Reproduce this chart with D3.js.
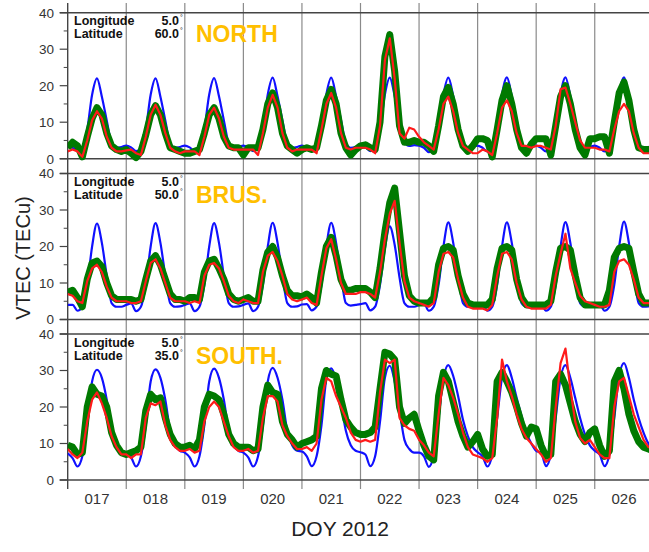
<!DOCTYPE html>
<html lang="en">
<head>
<meta charset="utf-8">
<title>VTEC DOY 2012</title>
<script src="https://d3js.org/d3.v7.min.js"></script>
<style>
  body { margin: 0; background: #fff; }
  text { font-family: "Liberation Sans", Arial, Helvetica, sans-serif; }
</style>
</head>
<body>
<svg width="649" height="552"></svg>
<script>
// x axis: days of year, one label per day
var days = ["017", "018", "019", "020", "021", "022", "023", "024", "025", "026"];
var firstDoy = 17, lastDoy = 27, stepHours = 2;
var yTicks = [0, 10, 20, 30, 40];
var yMinorTicks = [5, 15, 25, 35];

// values every 2 hours (00,02,...,22 UT), one row per day, last value = DOY 027 00 UT
var northBlue = [
  3.4, 3.0, 2.2, 2.9, 8.0, 17.5, 22.0, 17.0, 10.5, 4.3, 3.0, 3.2,
  3.6, 3.1, 2.1, 2.9, 8.0, 17.5, 22.0, 17.0, 10.5, 4.3, 3.0, 3.2,
  3.6, 3.1, 2.1, 2.9, 8.1, 17.6, 22.1, 17.1, 10.5, 4.3, 3.0, 3.2,
  3.6, 3.1, 2.1, 2.9, 8.1, 17.6, 22.2, 17.1, 10.5, 4.3, 3.0, 3.2,
  3.6, 3.1, 2.1, 2.9, 8.1, 17.6, 22.2, 17.1, 10.6, 4.4, 3.0, 3.2,
  3.6, 3.1, 2.1, 2.9, 8.1, 17.6, 22.2, 17.2, 10.6, 4.6, 3.5, 3.7,
  3.6, 3.0, 1.8, 2.9, 8.1, 17.6, 22.2, 17.2, 10.6, 4.4, 3.0, 3.2,
  3.6, 3.0, 2.0, 2.9, 8.1, 17.6, 22.3, 17.2, 10.6, 4.4, 3.0, 3.2,
  3.6, 3.0, 2.0, 2.9, 8.1, 17.6, 22.3, 17.2, 10.6, 4.4, 3.0, 3.2,
  3.6, 3.0, 2.0, 2.9, 8.1, 17.6, 22.3, 17.2, 10.6, 4.4, 3.0, 3.2,
  3.5
];
var northGreen = [
  3.0, 4.5, 3.5, 0.5, 6.0, 11.0, 14.0, 12.0, 7.0, 3.5, 2.5, 2.0,
  2.5, 1.5, 0.3, 2.0, 6.5, 12.0, 14.5, 12.0, 7.0, 3.0, 2.5, 2.0,
  1.5, 1.5, 2.0, 2.5, 7.0, 12.0, 14.0, 11.0, 6.0, 3.5, 3.0, 3.0,
  1.0, 3.0, 3.0, 3.0, 8.0, 15.0, 18.0, 14.0, 7.0, 3.5, 2.5, 1.5,
  2.5, 3.0, 2.5, 3.0, 9.0, 16.0, 19.0, 15.0, 7.0, 3.0, 1.0, 2.5,
  3.5, 3.8, 3.0, 2.5, 10.0, 28.0, 34.0, 24.0, 9.0, 4.5, 4.5, 5.0,
  4.5, 4.5, 3.5, 2.0, 9.0, 17.0, 19.5, 15.0, 8.0, 3.5, 2.0, 3.5,
  5.5, 5.5, 5.0, 0.5, 8.0, 16.0, 20.0, 15.0, 8.0, 3.0, 1.5, 4.0,
  5.5, 5.5, 5.5, 1.0, 9.0, 17.0, 20.0, 15.0, 8.0, 3.0, 1.0, 5.5,
  5.5, 6.0, 6.0, 1.5, 10.0, 18.0, 21.0, 16.0, 8.0, 3.0, 2.5, 2.5,
  2.5
];
var northRed = [
  2.0, 2.5, 2.0, 0.5, 5.0, 10.5, 13.0, 11.0, 6.0, 3.0, 2.0, 2.0,
  2.3, 2.5, 1.5, 1.0, 6.0, 12.0, 14.8, 12.0, 7.0, 3.0, 2.0, 1.5,
  2.0, 2.0, 2.0, 1.0, 6.0, 12.0, 14.0, 11.0, 6.0, 3.0, 2.5, 2.5,
  2.5, 2.5, 2.5, 1.0, 7.0, 14.0, 17.5, 14.0, 7.0, 3.0, 2.0, 2.5,
  2.5, 2.5, 2.5, 1.5, 8.0, 15.0, 18.0, 14.0, 7.0, 3.0, 2.5, 3.0,
  3.0, 3.0, 2.5, 1.5, 9.0, 27.0, 33.0, 22.0, 7.0, 5.5, 8.5, 8.0,
  6.0, 4.5, 3.5, 2.5, 8.0, 15.0, 17.0, 13.0, 7.0, 3.5, 2.5, 1.5,
  1.5, 2.5, 2.0, 1.0, 7.0, 14.0, 16.0, 13.0, 7.0, 3.5, 3.5, 3.0,
  3.5, 3.5, 3.0, 2.5, 9.0, 19.0, 19.5, 15.0, 10.0, 5.0, 3.0, 3.0,
  3.0, 2.5, 2.5, 2.0, 8.0, 13.0, 15.0, 13.0, 7.0, 3.0, 1.5, 1.5,
  1.5
];

var brusBlue = [
  4.0, 4.0, 2.4, 3.5, 9.5, 20.0, 26.3, 21.0, 12.0, 4.5, 3.5, 3.5,
  4.0, 4.4, 2.3, 3.5, 9.5, 20.0, 26.4, 21.0, 12.0, 4.5, 3.5, 3.6,
  4.0, 4.4, 2.3, 3.5, 9.5, 20.0, 26.4, 21.0, 12.0, 4.5, 3.5, 3.6,
  4.0, 4.4, 2.3, 3.5, 9.5, 20.0, 26.5, 21.0, 12.0, 4.5, 3.5, 3.6,
  4.1, 4.2, 2.5, 3.5, 9.5, 20.0, 26.5, 21.0, 12.0, 4.5, 3.8, 4.0,
  4.2, 4.5, 2.5, 3.5, 9.5, 19.5, 25.5, 20.5, 11.5, 4.5, 3.5, 3.5,
  4.0, 4.4, 2.4, 3.5, 9.5, 20.0, 26.6, 21.0, 12.0, 4.5, 3.5, 3.6,
  4.0, 4.4, 2.4, 3.5, 9.5, 20.0, 26.6, 21.0, 12.0, 4.5, 3.5, 3.6,
  4.0, 4.4, 2.4, 3.5, 9.5, 20.0, 26.7, 21.0, 12.0, 4.5, 3.5, 3.6,
  4.0, 4.4, 2.4, 3.5, 9.5, 20.0, 26.8, 21.0, 12.0, 4.5, 3.5, 3.6,
  4.0
];
var brusGreen = [
  7.5, 8.0, 6.0, 3.5, 11.0, 15.5, 16.0, 14.5, 10.0, 6.5, 5.5, 5.5,
  5.5, 5.5, 5.0, 5.5, 11.0, 16.0, 17.5, 15.0, 11.0, 7.0, 5.5, 5.5,
  5.0, 6.0, 6.0, 5.5, 13.0, 16.0, 16.5, 14.0, 11.0, 7.0, 5.5, 5.0,
  5.5, 6.0, 5.0, 5.0, 13.5, 18.5, 20.0, 17.0, 12.0, 8.0, 6.5, 6.5,
  6.2, 7.0, 6.0, 4.5, 13.0, 20.0, 22.5, 17.5, 11.0, 8.0, 8.0, 8.5,
  8.5, 8.5, 7.5, 6.0, 14.0, 24.0, 32.0, 36.0, 24.0, 12.0, 6.5, 5.0,
  4.5, 4.5, 4.5, 6.0, 15.0, 19.5, 20.0, 19.0, 12.0, 7.0, 4.5, 4.0,
  4.0, 4.0, 4.0, 5.5, 14.0, 19.5, 20.0, 19.0, 11.0, 6.0, 4.0, 4.0,
  4.0, 4.0, 4.0, 5.0, 13.0, 19.5, 20.0, 19.0, 12.0, 6.0, 4.0, 4.0,
  4.0, 4.0, 4.0, 8.0, 17.0, 19.5, 20.0, 19.5, 13.0, 7.0, 4.5, 4.5,
  4.5
];
var brusRed = [
  7.0, 6.5, 5.0, 4.5, 10.5, 14.0, 15.0, 13.0, 9.0, 6.0, 5.0, 5.0,
  5.0, 4.5, 4.5, 5.0, 10.5, 15.5, 16.5, 14.0, 10.0, 6.0, 5.0, 5.0,
  5.0, 4.5, 5.0, 4.5, 12.0, 15.0, 15.5, 14.0, 10.5, 6.5, 5.0, 4.5,
  5.5, 5.0, 4.5, 4.5, 13.0, 17.5, 18.5, 16.0, 12.0, 7.0, 5.5, 5.0,
  5.5, 6.0, 4.5, 4.0, 12.0, 19.5, 22.0, 16.5, 10.0, 7.0, 7.0, 7.0,
  7.5, 7.5, 7.0, 6.0, 13.0, 22.0, 29.0, 32.5, 21.0, 10.5, 6.0, 5.0,
  4.5, 4.0, 3.5, 4.5, 13.0, 18.0, 18.5, 17.0, 11.0, 6.0, 3.5, 3.0,
  3.0, 3.0, 2.5, 4.0, 12.0, 18.0, 18.5, 16.5, 10.0, 5.5, 3.5, 3.0,
  3.0, 3.0, 3.0, 4.0, 12.0, 18.0, 23.5, 14.0, 10.0, 6.5, 5.0, 4.5,
  4.0, 3.5, 3.5, 4.0, 13.0, 16.0, 16.5, 15.0, 11.0, 6.0, 4.5, 4.5,
  4.5
];

var southBlue = [
  7.3, 6.0, 3.7, 6.5, 15.0, 27.0, 30.2, 28.0, 22.0, 13.5, 9.5, 8.0,
  7.5, 6.2, 3.7, 6.5, 15.0, 27.0, 30.3, 28.0, 22.0, 13.5, 9.5, 8.0,
  7.5, 6.2, 3.7, 6.5, 15.0, 27.0, 30.5, 28.0, 22.0, 13.5, 9.5, 8.0,
  7.5, 6.2, 3.7, 6.5, 15.0, 27.0, 30.7, 28.0, 22.0, 13.5, 9.5, 8.0,
  7.8, 6.5, 3.8, 6.5, 15.0, 27.5, 30.6, 27.5, 21.0, 13.5, 9.5, 8.0,
  7.6, 7.0, 3.8, 6.5, 16.0, 28.0, 31.3, 27.0, 19.0, 11.0, 8.5, 7.5,
  7.5, 6.5, 3.6, 7.0, 17.0, 28.0, 31.5, 28.5, 23.0, 16.5, 12.0, 9.0,
  7.6, 6.5, 3.7, 7.0, 17.0, 28.0, 31.5, 28.0, 22.5, 17.5, 13.0, 10.0,
  8.0, 7.5, 3.8, 7.0, 17.0, 28.0, 31.5, 28.0, 22.5, 17.0, 12.5, 9.5,
  8.0, 7.0, 3.8, 7.0, 17.0, 28.5, 32.0, 28.0, 22.0, 17.0, 13.0, 10.0,
  8.5
];
var southGreen = [
  9.5, 9.0, 7.0, 7.5, 20.0, 25.5, 23.5, 23.0, 20.0, 13.0, 9.5, 7.5,
  7.0, 7.5, 8.0, 9.0, 19.0, 23.5, 22.0, 22.5, 17.0, 12.5, 10.0, 9.0,
  9.0, 9.5, 8.5, 11.0, 20.0, 23.5, 23.0, 22.0, 18.0, 12.5, 10.0, 9.0,
  9.0, 9.0, 8.0, 8.5, 20.0, 26.0, 24.0, 23.5, 16.0, 12.5, 11.0, 9.0,
  10.0, 10.5, 11.0, 12.0, 25.0, 30.0, 29.0, 28.5, 22.0, 16.5, 14.5, 13.0,
  12.5, 12.5, 13.0, 14.5, 25.0, 35.0, 34.5, 33.0, 20.0, 15.5, 17.0, 18.0,
  13.5, 9.5, 6.5, 5.5, 23.0, 29.5, 27.0, 21.5, 16.0, 12.0, 9.0, 10.5,
  12.5, 8.5, 6.5, 7.0, 27.0, 29.5, 27.0, 24.0, 20.0, 15.5, 12.0, 14.5,
  14.0, 9.5, 6.5, 7.0, 27.0, 29.0, 26.0, 21.0, 16.0, 12.5, 10.5, 13.0,
  14.0, 9.5, 6.5, 8.0, 27.0, 30.0, 25.0, 18.0, 13.5, 10.5, 9.0, 8.5,
  8.0
];
var southRed = [
  8.5, 7.0, 6.0, 7.5, 16.0, 22.0, 24.0, 21.0, 17.0, 12.0, 9.0, 7.0,
  7.0, 6.0, 7.0, 7.0, 17.0, 21.0, 20.5, 21.5, 15.0, 11.0, 9.0, 8.0,
  8.0, 8.5, 7.5, 8.0, 16.0, 20.0, 21.5, 20.0, 16.0, 12.0, 9.0, 8.0,
  8.0, 8.5, 7.5, 8.0, 17.0, 23.0, 23.0, 21.5, 15.0, 12.0, 10.0, 8.5,
  8.5, 9.0, 8.0, 10.0, 22.0, 28.0, 27.0, 23.0, 20.0, 17.0, 13.0, 11.0,
  10.5, 11.0, 10.5, 11.0, 24.0, 33.0, 32.0, 33.0, 17.0, 15.0, 14.0, 13.5,
  11.0, 9.5, 7.5, 6.5, 18.0, 28.0, 26.0, 22.5, 18.0, 13.0, 9.0, 7.0,
  6.5, 6.0, 5.0, 6.0, 17.0, 33.0, 27.0, 23.0, 18.0, 14.0, 11.5, 10.0,
  8.5, 7.0, 5.0, 6.0, 20.0, 32.0, 36.0, 25.0, 16.0, 11.5, 10.0, 11.0,
  9.0, 7.0, 6.0, 6.0, 20.0, 27.0, 28.0, 23.0, 18.0, 14.5, 11.0, 9.0,
  9.0
];

var panels = [
  { name: "NORTH",  lon: "5.0", lat: "60.0", top: 12.7,  blue: northBlue, green: northGreen, red: northRed },
  { name: "BRUS.",  lon: "5.0", lat: "50.0", top: 173.5, blue: brusBlue,  green: brusGreen,  red: brusRed },
  { name: "SOUTH.", lon: "5.0", lat: "35.0", top: 334,   blue: southBlue, green: southGreen, red: southRed }
];

var svg = d3.select("svg");
var left = 67.7, right = 653.3, panelH = 146;
var gridTop = 3, gridBottom = 489;

var x = d3.scaleLinear().domain([firstDoy, lastDoy]).range([left, right]);
var doyAt = function(i) { return firstDoy + i * stepHours / 24; };

svg.append("rect").attr("width", 649).attr("height", 552).attr("fill", "#fff");

svg.append("clipPath").attr("id", "clip")
  .append("rect").attr("x", left).attr("y", 0).attr("width", right - left).attr("height", 552);

// day boundary lines, running through all three panels
var bounds = d3.range(firstDoy + 1, lastDoy);
svg.append("g").selectAll("line").data(bounds).enter().append("line")
  .attr("x1", function(d) { return x(d); })
  .attr("x2", function(d) { return x(d); })
  .attr("y1", gridTop).attr("y2", gridBottom)
  .attr("stroke", "#8a8a8a").attr("stroke-width", 1.2);

svg.append("line")
  .attr("x1", left).attr("x2", left).attr("y1", gridTop).attr("y2", gridBottom)
  .attr("stroke", "#444").attr("stroke-width", 1.4);

panels.forEach(function(p) {
  var y = d3.scaleLinear().domain([0, 40]).range([p.top + panelH, p.top]);
  var g = svg.append("g");

  // frame top / bottom
  [0, 40].forEach(function(v) {
    g.append("line").attr("x1", left - 8).attr("x2", 649)
      .attr("y1", y(v)).attr("y2", y(v))
      .attr("stroke", "#444").attr("stroke-width", 1.4);
  });

  // y ticks
  g.selectAll(".tk").data(yTicks).enter().append("line")
    .attr("x1", left - 8).attr("x2", left)
    .attr("y1", function(d) { return y(d); }).attr("y2", function(d) { return y(d); })
    .attr("stroke", "#444").attr("stroke-width", 1.2);
  g.selectAll(".mtk").data(yMinorTicks).enter().append("line")
    .attr("x1", left - 4).attr("x2", left)
    .attr("y1", function(d) { return y(d); }).attr("y2", function(d) { return y(d); })
    .attr("stroke", "#444").attr("stroke-width", 1);
  g.selectAll(".tl").data(yTicks).enter().append("text")
    .attr("x", 54).attr("y", function(d) { return y(d); })
    .attr("dy", "0.36em").attr("text-anchor", "end")
    .attr("font-size", 13.5).attr("fill", "#333")
    .text(function(d) { return d; });

  var lines = g.append("g").attr("clip-path", "url(#clip)");

  var blueLine = d3.line()
    .x(function(d, i) { return x(doyAt(i)); })
    .y(function(d) { return y(d); })
    .curve(d3.curveMonotoneX);
  var rough = d3.line()
    .x(function(d, i) { return x(doyAt(i)); })
    .y(function(d) { return y(d); });

  lines.append("path").attr("d", blueLine(p.blue))
    .attr("fill", "none").attr("stroke", "#1010ff").attr("stroke-width", 2.2);
  lines.append("path").attr("d", rough(p.green))
    .attr("fill", "none").attr("stroke", "#007a00").attr("stroke-width", 7)
    .attr("stroke-linejoin", "round");
  lines.append("path").attr("d", rough(p.red))
    .attr("fill", "none").attr("stroke", "#ff1a1a").attr("stroke-width", 2.2)
    .attr("stroke-linejoin", "round");

  // station info
  var info = g.append("g").attr("font-weight", "bold").attr("font-size", 12.5).attr("fill", "#111");
  info.append("text").attr("x", 74).attr("y", p.top + 12.5).text("Longitude");
  info.append("text").attr("x", 179).attr("y", p.top + 12.5).attr("text-anchor", "end").text(p.lon);
  info.append("text").attr("x", 74).attr("y", p.top + 25.5).text("Latitude");
  info.append("text").attr("x", 179).attr("y", p.top + 25.5).attr("text-anchor", "end").text(p.lat);
  [12.5, 25.5].forEach(function(dy) {
    info.append("text").attr("x", 180).attr("y", p.top + dy - 5)
      .attr("font-size", 7).attr("font-weight", "normal").text("°");
  });

  g.append("text").attr("x", 196).attr("y", p.top + 29.5)
    .attr("font-size", 23).attr("font-weight", "bold").attr("fill", "#ffbf00")
    .text(p.name);
});

// day labels under the bottom panel
svg.append("g").selectAll("text").data(days).enter().append("text")
  .attr("x", function(d, i) { return x(firstDoy + i + 0.5); })
  .attr("y", 504).attr("text-anchor", "middle")
  .attr("font-size", 15).attr("fill", "#333")
  .text(function(d) { return d; });

svg.append("text").attr("x", 340).attr("y", 536).attr("text-anchor", "middle")
  .attr("font-size", 21).attr("fill", "#222").text("DOY 2012");

svg.append("text").attr("transform", "translate(30,258) rotate(-90)")
  .attr("text-anchor", "middle").attr("font-size", 20).attr("fill", "#222")
  .text("VTEC (TECu)");
</script>
</body>
</html>
